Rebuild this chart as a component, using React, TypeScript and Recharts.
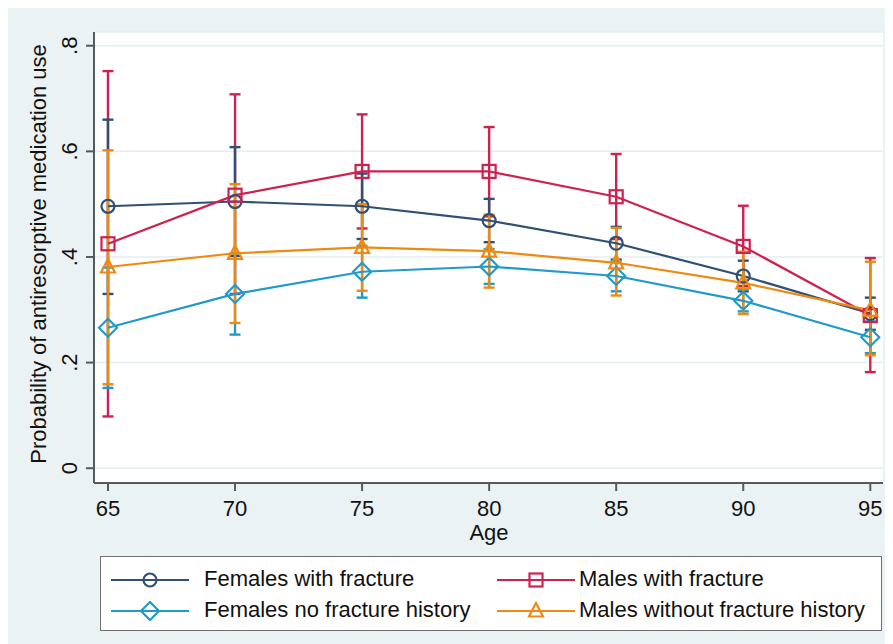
import React from "react";
import { LineChart, Line, XAxis, YAxis, CartesianGrid, ErrorBar, Label } from "recharts";

const AGES = [65, 70, 75, 80, 85, 90, 95];

const FEM_FX = [0.496, 0.505, 0.496, 0.469, 0.426, 0.364, 0.293];
const FEM_FX_LO = [0.33, 0.402, 0.434, 0.428, 0.395, 0.335, 0.262];
const FEM_FX_HI = [0.66, 0.608, 0.558, 0.51, 0.457, 0.393, 0.323];

const MALE_FX = [0.425, 0.517, 0.562, 0.562, 0.514, 0.42, 0.289];
const MALE_FX_LO = [0.098, 0.33, 0.454, 0.477, 0.434, 0.345, 0.182];
const MALE_FX_HI = [0.752, 0.708, 0.67, 0.646, 0.595, 0.497, 0.398];

const FEM_NO = [0.266, 0.33, 0.372, 0.382, 0.364, 0.317, 0.248];
const FEM_NO_LO = [0.152, 0.253, 0.323, 0.349, 0.335, 0.297, 0.218];
const FEM_NO_HI = [0.38, 0.407, 0.421, 0.415, 0.392, 0.338, 0.278];

const MALE_NO = [0.381, 0.407, 0.418, 0.411, 0.389, 0.351, 0.299];
const MALE_NO_LO = [0.159, 0.275, 0.336, 0.342, 0.327, 0.292, 0.214];
const MALE_NO_HI = [0.602, 0.538, 0.5, 0.48, 0.455, 0.41, 0.391];

const Y_TICKS = [0, 0.2, 0.4, 0.6, 0.8];
const Y_TICK_LABELS = ["0", ".2", ".4", ".6", ".8"];

const FONT = "'Liberation Sans', Arial, sans-serif";
const AXIS = "#555a5e";
const BG = "#eaf2f3";

type Shape = "circle" | "square" | "diamond" | "triangle";

const SERIES = [
  { key: "femFx", name: "Females with fracture", color: "#2f5074", shape: "circle" as Shape, v: FEM_FX, lo: FEM_FX_LO, hi: FEM_FX_HI },
  { key: "maleFx", name: "Males with fracture", color: "#cf2150", shape: "square" as Shape, v: MALE_FX, lo: MALE_FX_LO, hi: MALE_FX_HI },
  { key: "femNo", name: "Females no fracture history", color: "#1f9acb", shape: "diamond" as Shape, v: FEM_NO, lo: FEM_NO_LO, hi: FEM_NO_HI },
  { key: "maleNo", name: "Males without fracture history", color: "#ee8a12", shape: "triangle" as Shape, v: MALE_NO, lo: MALE_NO_LO, hi: MALE_NO_HI },
];

// error bars are drawn first, in this order, then the lines
const BAR_ORDER = ["maleFx", "femFx", "femNo", "maleNo"];

const data = AGES.map((age, i) => {
  const row: Record<string, number | number[]> = { age };
  SERIES.forEach((s) => {
    row[s.key] = s.v[i];
    row[s.key + "Err"] = [s.v[i] - s.lo[i], s.hi[i] - s.v[i]];
  });
  return row;
});

function Marker({ shape, cx, cy, color }: { shape: Shape; cx: number; cy: number; color: string }) {
  const common = { fill: "none", stroke: color, strokeWidth: 2.2 };
  if (shape === "circle") return <circle cx={cx} cy={cy} r={6.5} {...common} />;
  if (shape === "square") return <rect x={cx - 6.5} y={cy - 6.5} width={13} height={13} {...common} />;
  if (shape === "diamond")
    return <polygon points={`${cx},${cy - 9} ${cx + 9},${cy} ${cx},${cy + 9} ${cx - 9},${cy}`} {...common} />;
  return <polygon points={`${cx},${cy - 8} ${cx + 7},${cy + 5.5} ${cx - 7},${cy + 5.5}`} {...common} />;
}

function XTick({ x, y, payload }: any) {
  return (
    <text x={x} y={y + 25} textAnchor="middle" fontFamily={FONT} fontSize={22} fill="#111">
      {payload.value}
    </text>
  );
}

function YTick({ x, y, payload }: any) {
  const i = Y_TICKS.indexOf(payload.value);
  const bx = x - 9;
  return (
    <text x={bx} y={y} transform={`rotate(-90, ${bx}, ${y})`} textAnchor="middle" fontFamily={FONT} fontSize={22} fill="#111">
      {Y_TICK_LABELS[i]}
    </text>
  );
}

function LegendSwatch({ color, shape }: { color: string; shape: Shape }) {
  return (
    <svg width={78} height={20} style={{ display: "block" }}>
      <line x1={0} y1={10} x2={78} y2={10} stroke={color} strokeWidth={2.2} />
      <Marker shape={shape} cx={39} cy={10} color={color} />
    </svg>
  );
}

function ChartLegend() {
  const cols = [
    { left: 10, text: 103 },
    { left: 396, text: 478 },
  ];
  return (
    <div
      style={{
        position: "absolute",
        left: 92,
        top: 548,
        width: 780,
        height: 73,
        background: "#fff",
        border: "1.5px solid #6d6f71",
        fontFamily: FONT,
        fontSize: 22,
        color: "#111",
      }}
    >
      {SERIES.map((s, i) => {
        const c = cols[i % 2];
        const top = i < 2 ? 12 : 43;
        return (
          <React.Fragment key={s.key}>
            <div style={{ position: "absolute", left: c.left, top: top + 1 }}>
              <LegendSwatch color={s.color} shape={s.shape} />
            </div>
            <div style={{ position: "absolute", left: c.text, top: top - 3, whiteSpace: "nowrap", lineHeight: "26px" }}>
              {s.name}
            </div>
          </React.Fragment>
        );
      })}
    </div>
  );
}

export default function App() {
  return (
    <div style={{ position: "relative", width: 885, height: 636, background: BG }}>
      <LineChart width={885} height={636} data={data} margin={{ top: 24, right: 10, bottom: 0, left: 0 }}>
        <CartesianGrid horizontal vertical={false} fill="#ffffff" stroke="#e4eef0" strokeWidth={1.5} />
        <XAxis
          dataKey="age"
          type="number"
          domain={[64.45, 95.5]}
          ticks={AGES}
          allowDataOverflow
          height={161}
          tickSize={8}
          tickMargin={0}
          axisLine={{ stroke: AXIS, strokeWidth: 2 }}
          tickLine={{ stroke: AXIS, strokeWidth: 2 }}
          tick={<XTick />}
        >
          <Label
            content={() => (
              <text x={481} y={532} textAnchor="middle" fontFamily={FONT} fontSize={22} fill="#111">
                Age
              </text>
            )}
          />
        </XAxis>
        <YAxis
          type="number"
          domain={[-0.028, 0.826]}
          ticks={Y_TICKS}
          allowDataOverflow
          width={86}
          tickSize={8}
          tickMargin={0}
          axisLine={{ stroke: AXIS, strokeWidth: 2 }}
          tickLine={{ stroke: AXIS, strokeWidth: 2 }}
          tick={<YTick />}
        >
          <Label
            content={() => (
              <text
                x={38}
                y={246}
                transform="rotate(-90, 38, 246)"
                textAnchor="middle"
                fontFamily={FONT}
                fontSize={22}
                fill="#111"
              >
                Probability of antiresorptive medication use
              </text>
            )}
          />
        </YAxis>
        {BAR_ORDER.map((k) => {
          const s = SERIES.find((x) => x.key === k)!;
          return (
            <Line
              key={k + "-ci"}
              dataKey={k}
              stroke="none"
              dot={false}
              activeDot={false}
              legendType="none"
              isAnimationActive={false}
            >
              <ErrorBar dataKey={k + "Err"} direction="y" width={5.5} stroke={s.color} strokeWidth={2.4} />
            </Line>
          );
        })}
        {SERIES.map((s) => (
          <Line
            key={s.key}
            dataKey={s.key}
            name={s.name}
            stroke={s.color}
            strokeWidth={2.2}
            activeDot={false}
            isAnimationActive={false}
            dot={(p: any) => <Marker key={s.key + p.index} shape={s.shape} cx={p.cx} cy={p.cy} color={s.color} />}
          />
        ))}
      </LineChart>
      <ChartLegend />
    </div>
  );
}
